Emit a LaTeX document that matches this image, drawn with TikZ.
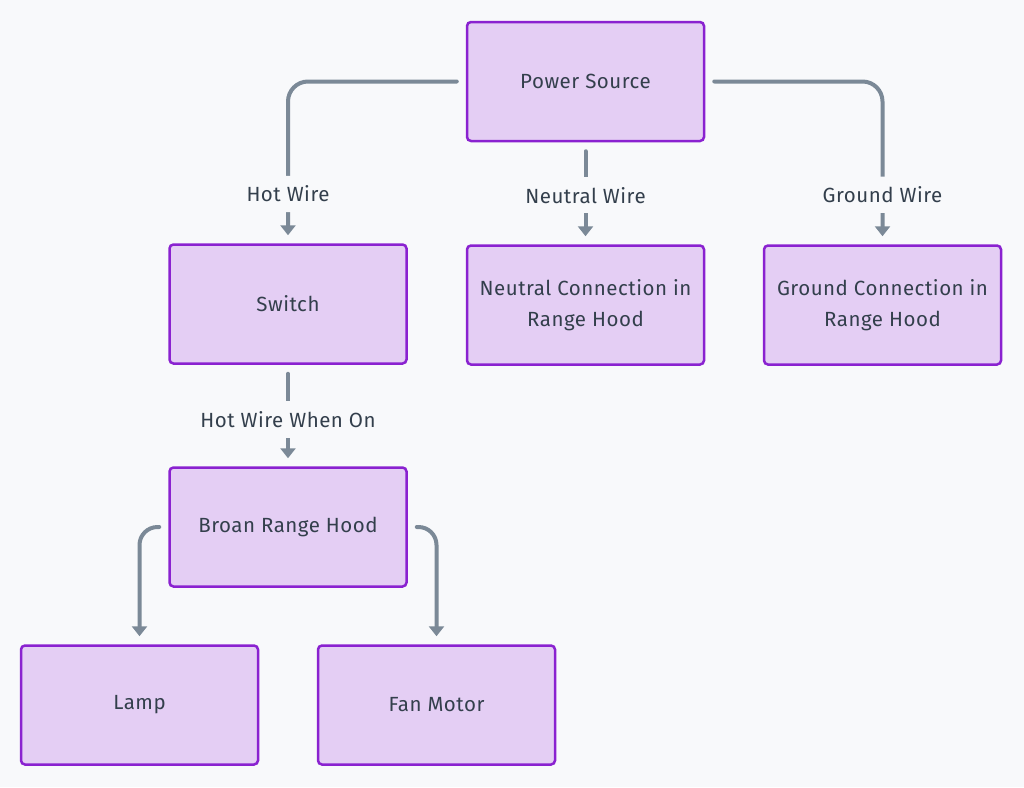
\documentclass[tikz,border=0pt]{standalone}
\usepackage{fontspec}
\setmainfont{Fira Sans}[LetterSpace=2.5]
\usetikzlibrary{arrows.meta}

\definecolor{pagebg}{HTML}{F8F9FB}
\definecolor{boxfill}{HTML}{E4CEF4}
\definecolor{boxline}{HTML}{8A22D0}
\definecolor{wirecol}{HTML}{7B8997}
\definecolor{txtcol}{HTML}{333F4C}

\tikzset{
    box/.style={rectangle, draw=boxline, fill=boxfill, line width=2.5pt, rounded corners=4pt,
        minimum width=237pt, minimum height=119pt, align=center, text=txtcol,
        font=\fontsize{20.5}{31}\selectfont},
    wire/.style={draw=wirecol, line width=4pt, line cap=round,
        -{Triangle[width=15pt,length=10pt]}, shorten <=9pt, shorten >=8pt},
    lbl/.style={fill=pagebg, text=txtcol, inner xsep=5pt, inner ysep=10pt, font=\fontsize{20.5}{22}\selectfont}
}

\begin{document}
\begin{tikzpicture}[x=1pt,y=-1pt]
        \fill[pagebg] (0,0) rectangle (1024,787);

        \node[box] (power) at (585.5, 81.5) {Power Source};
        \node[box] (switch) at (288, 304) {Switch};
        \node[box] (neutral) at (585.5, 305) {Neutral Connection in\\Range Hood};
        \node[box] (ground) at (882.5, 305) {Ground Connection in\\Range Hood};
        \node[box] (hood) at (288, 527) {Broan Range Hood};
        \node[box] (lamp) at (139.5, 705) {Lamp};
        \node[box] (fan) at (436.5, 705) {Fan Motor};

        \draw[wire, rounded corners=20pt] (power.west) -| node[lbl, pos=0.848]{Hot Wire} (switch.north);
        \draw[wire] (power) -- node[lbl, pos=0.52]{Neutral Wire} (neutral);
        \draw[wire, rounded corners=20pt] (power.east) -| node[lbl, pos=0.848]{Ground Wire} (ground.north);
        \draw[wire] (switch) -- node[lbl, pos=0.54]{Hot Wire When On} (hood);
        \draw[wire, rounded corners=18pt] (hood.west) -| (lamp.north);
        \draw[wire, rounded corners=18pt] (hood.east) -| (fan.north);
    \end{tikzpicture}
\end{document}
